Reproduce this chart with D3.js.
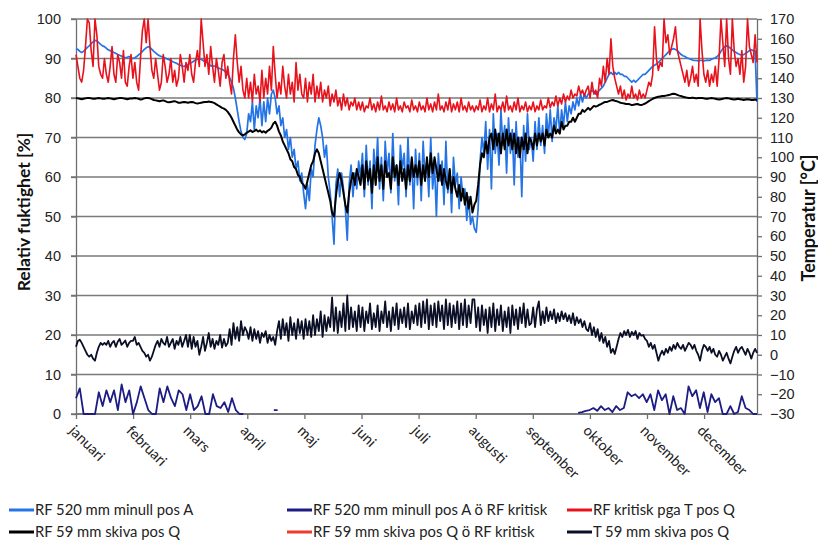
<!DOCTYPE html>
<html lang="sv">
<head>
<meta charset="UTF-8">
<title>RF och temperatur</title>
<style>
  body { margin: 0; background: #fff; }
  svg { display: block; font-family: Lato, "Open Sans", Arial, sans-serif; }
  .grid line { stroke: #7a7a7a; stroke-width: 1.4px; }
  .axis path, .axis line { stroke: #6f6f6f; stroke-width: 1.3px; }
  .axis text { font-size: 14.5px; fill: #222; }
  .title { font-weight: bold; fill: #111; }
  .legend text { font-size: 14.8px; fill: #222; }
</style>
</head>
<body>
<svg width="818" height="542"></svg>
<script src="https://d3js.org/d3.v7.min.js"></script>
<script>
// months on the x axis
const months = ["januari", "februari", "mars", "april", "maj", "juni", "juli",
  "augusti", "september", "oktober", "november", "december"];

// daily values, 30 per month
const rfA = [
  92.5,92.3,91.8,91.5,91.8,92.3,92.8,93.2,93.8,94.2,94.6,94.5,94,93.6,93.2,93,92.6,92.2,92,91.8,91.5,91.3,91,90.8,90.6,90.4,90.2,90.3,90.5,90.2,
  90,90.2,90.5,90.9,91.3,91.8,92.3,92.7,93,92.8,92.3,91.8,91.4,91,90.7,90.5,90.3,90.1,89.9,89.7,89.5,89.2,89,88.8,88.5,88.3,88.1,88,88.2,88.5,
  88.8,89,89.3,89.6,89.8,90,89.8,89.5,89.2,89,88.6,88.2,88,88.1,87.9,87.6,87.4,87.2,87,86.5,86,85.2,84,82.5,80,77,74,71.5,70,69.5,
  71,76,74,79,72,78,75,80,73,79,74,80,76,81,82,80,76,78,73,75,70,72,67,70,65,67,62,64,59,61,
  56,52,58,54,62,60,68,72,75,73,70,65,68,60,56,50,43,58,62,55,61,57,52,44,58,63,55,61,57,64,
  60,66,55,68,58,64,52,67,60,70,57,65,54,69,61,66,56,71,59,63,53,68,62,66,55,70,58,64,52,67,
  58,66,54,69,60,64,55,70,57,63,50,66,59,64,53,69,56,62,51,65,58,61,52,60,55,57,49,55,48,50,
  47,46,52,64,70,66,74,62,72,57,76,66,71,63,77,68,73,61,75,66,72,58,74,65,70,55,73,64,76,67,
  70,64,74,67,75,68,73,66,76,70,77,69,75,72,78,71,77,73,79,74,78,76,79,77,80,78,81,79,81,80,
  81,81.5,82,81.5,81,81.5,82,82.5,83,84,85,86,86.5,86,86.5,86,86.5,86,86,85.5,85.5,85,84.5,84,84.5,84,84.5,85,85.5,86,
  86,86.5,87,87.5,88,88.3,88.6,89,89.5,90,90.5,91,91.5,92,92.3,92.5,92.3,92,91.5,91,90.7,90.5,90.2,90,89.8,89.6,89.5,89.5,89.4,89.5,
  89.5,89.4,89.5,89.6,89.5,89.8,90,90.2,90.5,91,91.8,92.5,93,93.2,93,92.6,92.2,91.8,91.5,91.2,91,90.9,91,91.3,91.6,92,92.2,92,91.8,79
];

const rfCrit = [
  91,88,85,84,87,93,100,99,92,88,100,96,88,86,85,90,86,84,88,93,86,84,91,89,85,92,84,83,88,91,
  85,89,84,82,90,97,100,94,100,93,87,85,90,86,82,84,91,88,84,86,90,84,87,83,85,91,88,84,89,87,
  91,86,84,89,92,88,100,94,88,91,86,93,88,84,90,87,83,89,91,85,88,84,81,90,96,89,84,88,82,80,
  85,80,84,79,86,81,83,79,87,80,85,81,88,82,93,86,80,84,81,88,83,80,86,81,84,79,89,82,86,81,
  80,85,79,84,81,86,79,83,80,84,79,82,80,83,78,81,79,82,78,80,77,81,78,80,77,79,78,80,77,79,
  77,79,76.5,78,77.5,80,77,78.5,76.5,79,77,80.5,77,78,76.5,79,77,78.5,76.5,80,77,78,76.5,79,77.5,78,76.5,79.5,77,78,
  76.5,79,77,78,76.5,80,77,78.5,76.5,79,77,81,77,78,76.5,79,77,80,76.5,78.5,77,79,76.5,80,77,78,76.5,79,77,78,
  76.5,78,77,79.5,76.5,78,77,80,76.5,78.5,77,81,76.5,78,77,79,76.5,80.5,77,78,76.5,79,77,80,76.5,78,77,79,76.5,78,
  77,79,76.5,78,77,79.5,77,78,77.5,80,77.5,79,78,80.5,78,80,78.5,81,79,80.5,79.5,82,80,81,80.5,83,81,82,80.5,82,
  83,80,84,81,82,80,85,83,88,84,90,86,95,88,85,83,81,83,80,82,79.5,81,80,83,80,81,79.5,82,80,81,
  80,82,84,83,86,98,90,87,89,88,100,94,96,91,93,95,98,92,90,88,86,84,87,83,85,88,84,86,83,100,
  92,86,84,87,83,86,84,88,83,90,100,94,88,100,90,86,100,92,88,90,86,92,84,88,100,93,91,89,96,89
];

const rfQ = [
  80,79.9,79.8,79.7,79.8,79.9,80,80,79.9,79.8,79.8,79.9,80,79.9,79.8,79.8,79.9,80,79.9,79.8,79.7,79.8,79.9,80,80,79.9,79.8,79.7,79.8,79.9,
  79.9,80,79.9,79.8,79.6,79.7,79.9,80,80,79.9,79.7,79.5,79.4,79.3,79.2,79.3,79.4,79.2,79,78.9,79,79.1,79.2,79,78.8,78.8,78.9,79,78.9,78.8,
  78.9,79,78.9,78.7,78.6,78.7,78.8,78.9,79,79,79.1,79,78.9,78.7,78.4,78.1,77.8,77.5,77.3,77,76.5,75.8,75,74,73,72,71.3,70.8,70.5,70.8,
  71.2,71.5,71.8,71.4,71.6,72,71.5,71.8,71.3,71.6,71.2,71.7,72,72.5,73.5,74,73,71.5,70.5,69,68,67,66,64.5,64,62.5,62,60.5,60,58.5,
  58,57,59,61,63,64,66,67,66,64,62,60,58,56,54,51,50,55,59,61,59,56,53,51,56,59,61,58,62,60,
  58,63,57,64,59,62,56,63,58,65,59,63,57,64,60,61,57,65,60,63,58,64,59,62,57,63,59,65,60,63,
  60,64,58,63,59,65,60,66,61,65,62,59,63,58,62,59,57,62,56,60,57,55,58,54,57,53,56,52,55,51,
  53,54,58,63,66,65,69,66,70,71,67,72,68,71,66,71,67,72,68,71,67,71,66,70,65,70,67,71,66,70,
  69,67,71,68,71,69,71,68,72,70,71,70,73,71,72,71,74,72,73,73,74,74,75,74,75,76,76,77,76.5,77,
  77.5,77,77.5,78,77.8,78,78.3,78.5,78.8,79,79,79.2,79.4,79.5,79.3,79.2,79,78.8,78.7,78.6,78.5,78.5,78.4,78.2,78.3,78.4,78.5,78.3,78.2,78.4,
  78.6,78.9,79.2,79.5,79.8,80,80.2,80.3,80.4,80.5,80.5,80.6,80.7,80.8,81,81.1,81,80.8,80.6,80.5,80.3,80.2,80.1,80,80,80.1,80,79.9,80,80,
  80,79.9,79.8,79.8,79.9,80,79.9,79.8,79.7,79.6,79.7,79.8,79.9,80,79.9,79.8,79.7,79.6,79.7,79.8,79.7,79.6,79.5,79.6,79.7,79.6,79.5,79.5,79.6,79.5
];

// temperature [°C], right axis
const tQ = [
  4,7,7.6,6,4,2,0,-1,0,-2,-3,1,4,6,5,6,5,7,4,6,7,4,6.6,8,5,6,7.2,4,6,7,
  7,9,5,6,4,2,1,-1,0,-3,-1,2,5,7,4,8,6,5,9,4,6,8,3,7,5,9,4,7,10,4,
  10,3,9,4,7,0,4,9,2,6,11,4,8,3,7,5,10,3.6,8,4.4,6,13,5,16,8,14,7,17,10,14,
  12,8,14,7,13,8,12,6,11,9,12,6,10,7,9,5,12,17,8,18,10,16,7,19,10,16,8,18,11,17,
  8,18,10,17,9,20,10,18,12,22,9,20,12,19,14,29,12,24,11,22,14,26,12,30,13,24,14,22,12,25,
  14,24,12,22,16,26,13,21,14,25,12,22,16,27,14,22,12,24,15,26,13,23,16,24,14,26,13,22,16,25,
  15,26,14,27,16,28,13,25,15,26,14,27,17,25,13,28,15,26,14,25,16,27,13,26,15,28,14,25,16,28,
  28,14,24,12,25,15,23,11,24,14,26,12,23,15,25,12,22,14,24,11,25,15,23,13,24,16,26,14,23,15,
  16,24,14,23,27,15,22,16,24,17,22,18,23,16,21,17,22,18,21,17,20,16,21,15,19,16,18,14,17,13,
  12,16,10,14,9,13,7,11,6,9,4,7,1,3,0.4,4,8,11,9,12,10,12.6,9,11.6,10,12,8,11,9.6,10,
  8,7,4,6,3,5,1,-3,0,2,0,3,1,4,2,5,3,6,4,3,5,2,4,6,5,3,5,2,0,-3,
  2,5,4,2,4,1,3,0,-1,2,0,-3,-1,1,-2,-4.4,-1,2,4,1,3,4,2,0,3,1,-2,1,3,1
];

// ~2 days per value, 15 per month; null where nothing is drawn
const rfAOver = [
  4,6.5,0,0,0,0,5.5,2,6,3,6,1,7.5,3,6,
  0,3,7,4,1,0,0,6.5,3,7,4,2,6,5,1,
  5,1,2,4.5,0,0,5,2,1.5,3,0.5,4,1,0,0,
  null,null,null,null,null,null,null,1,1,null,null,null,null,null,null,
  null,null,null,null,null,null,null,null,null,null,null,null,null,null,null,
  null,null,null,null,null,null,null,null,null,null,null,null,null,null,null,
  null,null,null,null,null,null,null,null,null,null,null,null,null,null,null,
  null,null,null,null,null,null,null,null,null,null,null,null,null,null,null,
  null,null,null,null,null,null,null,null,null,null,null,null,0.3,0.5,0.8,
  1,1.5,0.8,2,1,1.5,0.5,2,1,1.5,5.5,4.5,5,4,5,
  3,5,1,6,3.5,5,0,4.5,1,1.5,0,7,4.5,6,1.5,
  5.5,0.5,5,3,4,0,0,2,0,0.5,4.5,1.5,1,0,0
];

// no visible trace in the picture
const rfQOver = [];

const seriesNames = ["RF 520 mm minull pos A", "RF 520 mm minull pos A ö RF kritisk",
  "RF kritisk pga T pos Q", "RF 59 mm skiva pos Q",
  "RF 59 mm skiva pos Q ö RF kritisk", "T 59 mm skiva pos Q"];
const seriesColors = ["#2474e6", "#1c1c84", "#e8121c", "#000000", "#ee3a2c", "#0b0f26"];

const svg = d3.select("svg");
const mLeft = 76, mRight = 757, mTop = 19, mBottom = 414;
const monthW = 57.1;

const x = d3.scaleLinear().domain([0, 12]).range([mLeft, mLeft + 12 * monthW]);
const xMax = x.invert(mRight);
const yL = d3.scaleLinear().domain([0, 100]).range([mBottom, mTop]);
const yR = d3.scaleLinear().domain([-30, 170]).range([mBottom, mTop]);

// gridlines
svg.append("g").attr("class", "grid")
  .selectAll("line").data(yL.ticks(10)).join("line")
  .attr("x1", mLeft - 5).attr("x2", mRight)
  .attr("y1", d => yL(d)).attr("y2", d => yL(d));

// axes
svg.append("g").attr("class", "axis")
  .attr("transform", `translate(${mLeft},0)`)
  .call(d3.axisLeft(yL).ticks(10).tickSize(5).tickPadding(10).tickSizeOuter(0));
svg.append("g").attr("class", "axis")
  .attr("transform", `translate(${mRight},0)`)
  .call(d3.axisRight(yR).ticks(20).tickSize(5).tickPadding(8).tickSizeOuter(0));
const gX = svg.append("g").attr("class", "axis")
  .attr("transform", `translate(0,${mBottom})`)
  .call(d3.axisBottom(x).tickValues(d3.range(12)).tickSize(5).tickFormat(() => "").tickSizeOuter(0));
gX.select(".domain").attr("d", `M${mLeft},0H${mRight}`);

svg.append("g").selectAll("text").data(months).join("text")
  .attr("transform", (d, i) => `translate(${x(i) - 4},${mBottom + 14}) rotate(45)`)
  .attr("dy", "0.35em")
  .style("font-size", "14.5px").style("fill", "#222")
  .text(d => d);

// axis titles
svg.append("text").attr("class", "title")
  .attr("transform", `translate(30,212) rotate(-90)`)
  .style("font-size", "17.5px")
  .attr("text-anchor", "middle").text("Relativ fuktighet [%]");
svg.append("text").attr("class", "title")
  .attr("transform", `translate(815,218) rotate(-90)`)
  .style("font-size", "18px")
  .attr("text-anchor", "middle").text("Temperatur [°C]");

// lines
function drawSeries(values, yScale, color, width) {
  const n = values.length;
  if (!n) return;
  const line = d3.line()
    .defined(d => d != null)
    .x((d, i) => x(i / (n - 1) * xMax))
    .y(d => yScale(d));
  svg.append("path").datum(values)
    .attr("fill", "none").attr("stroke", color)
    .attr("stroke-width", width).attr("stroke-linejoin", "round")
    .attr("d", line);
}

drawSeries(rfA, yL, seriesColors[0], 1.7);
drawSeries(rfCrit, yL, seriesColors[2], 1.6);
drawSeries(rfQ, yL, seriesColors[3], 2);
drawSeries(rfQOver, yL, seriesColors[4], 1.5);
drawSeries(rfAOver, yL, seriesColors[1], 1.8);
drawSeries(tQ, yR, seriesColors[5], 1.8);

// legend
const legCols = [9, 287, 567], legRows = [510, 532];
const leg = svg.append("g").attr("class", "legend")
  .selectAll("g").data(d3.range(seriesNames.length)).join("g")
  .attr("transform", (d, i) => `translate(${legCols[i % 3]},${legRows[Math.floor(i / 3)]})`);
leg.append("line").attr("x1", 0).attr("x2", 25)
  .attr("stroke", d => seriesColors[d]).attr("stroke-width", 3);
leg.append("text").attr("x", 26).attr("dy", "0.35em").text(d => seriesNames[d]);
</script>
</body>
</html>
